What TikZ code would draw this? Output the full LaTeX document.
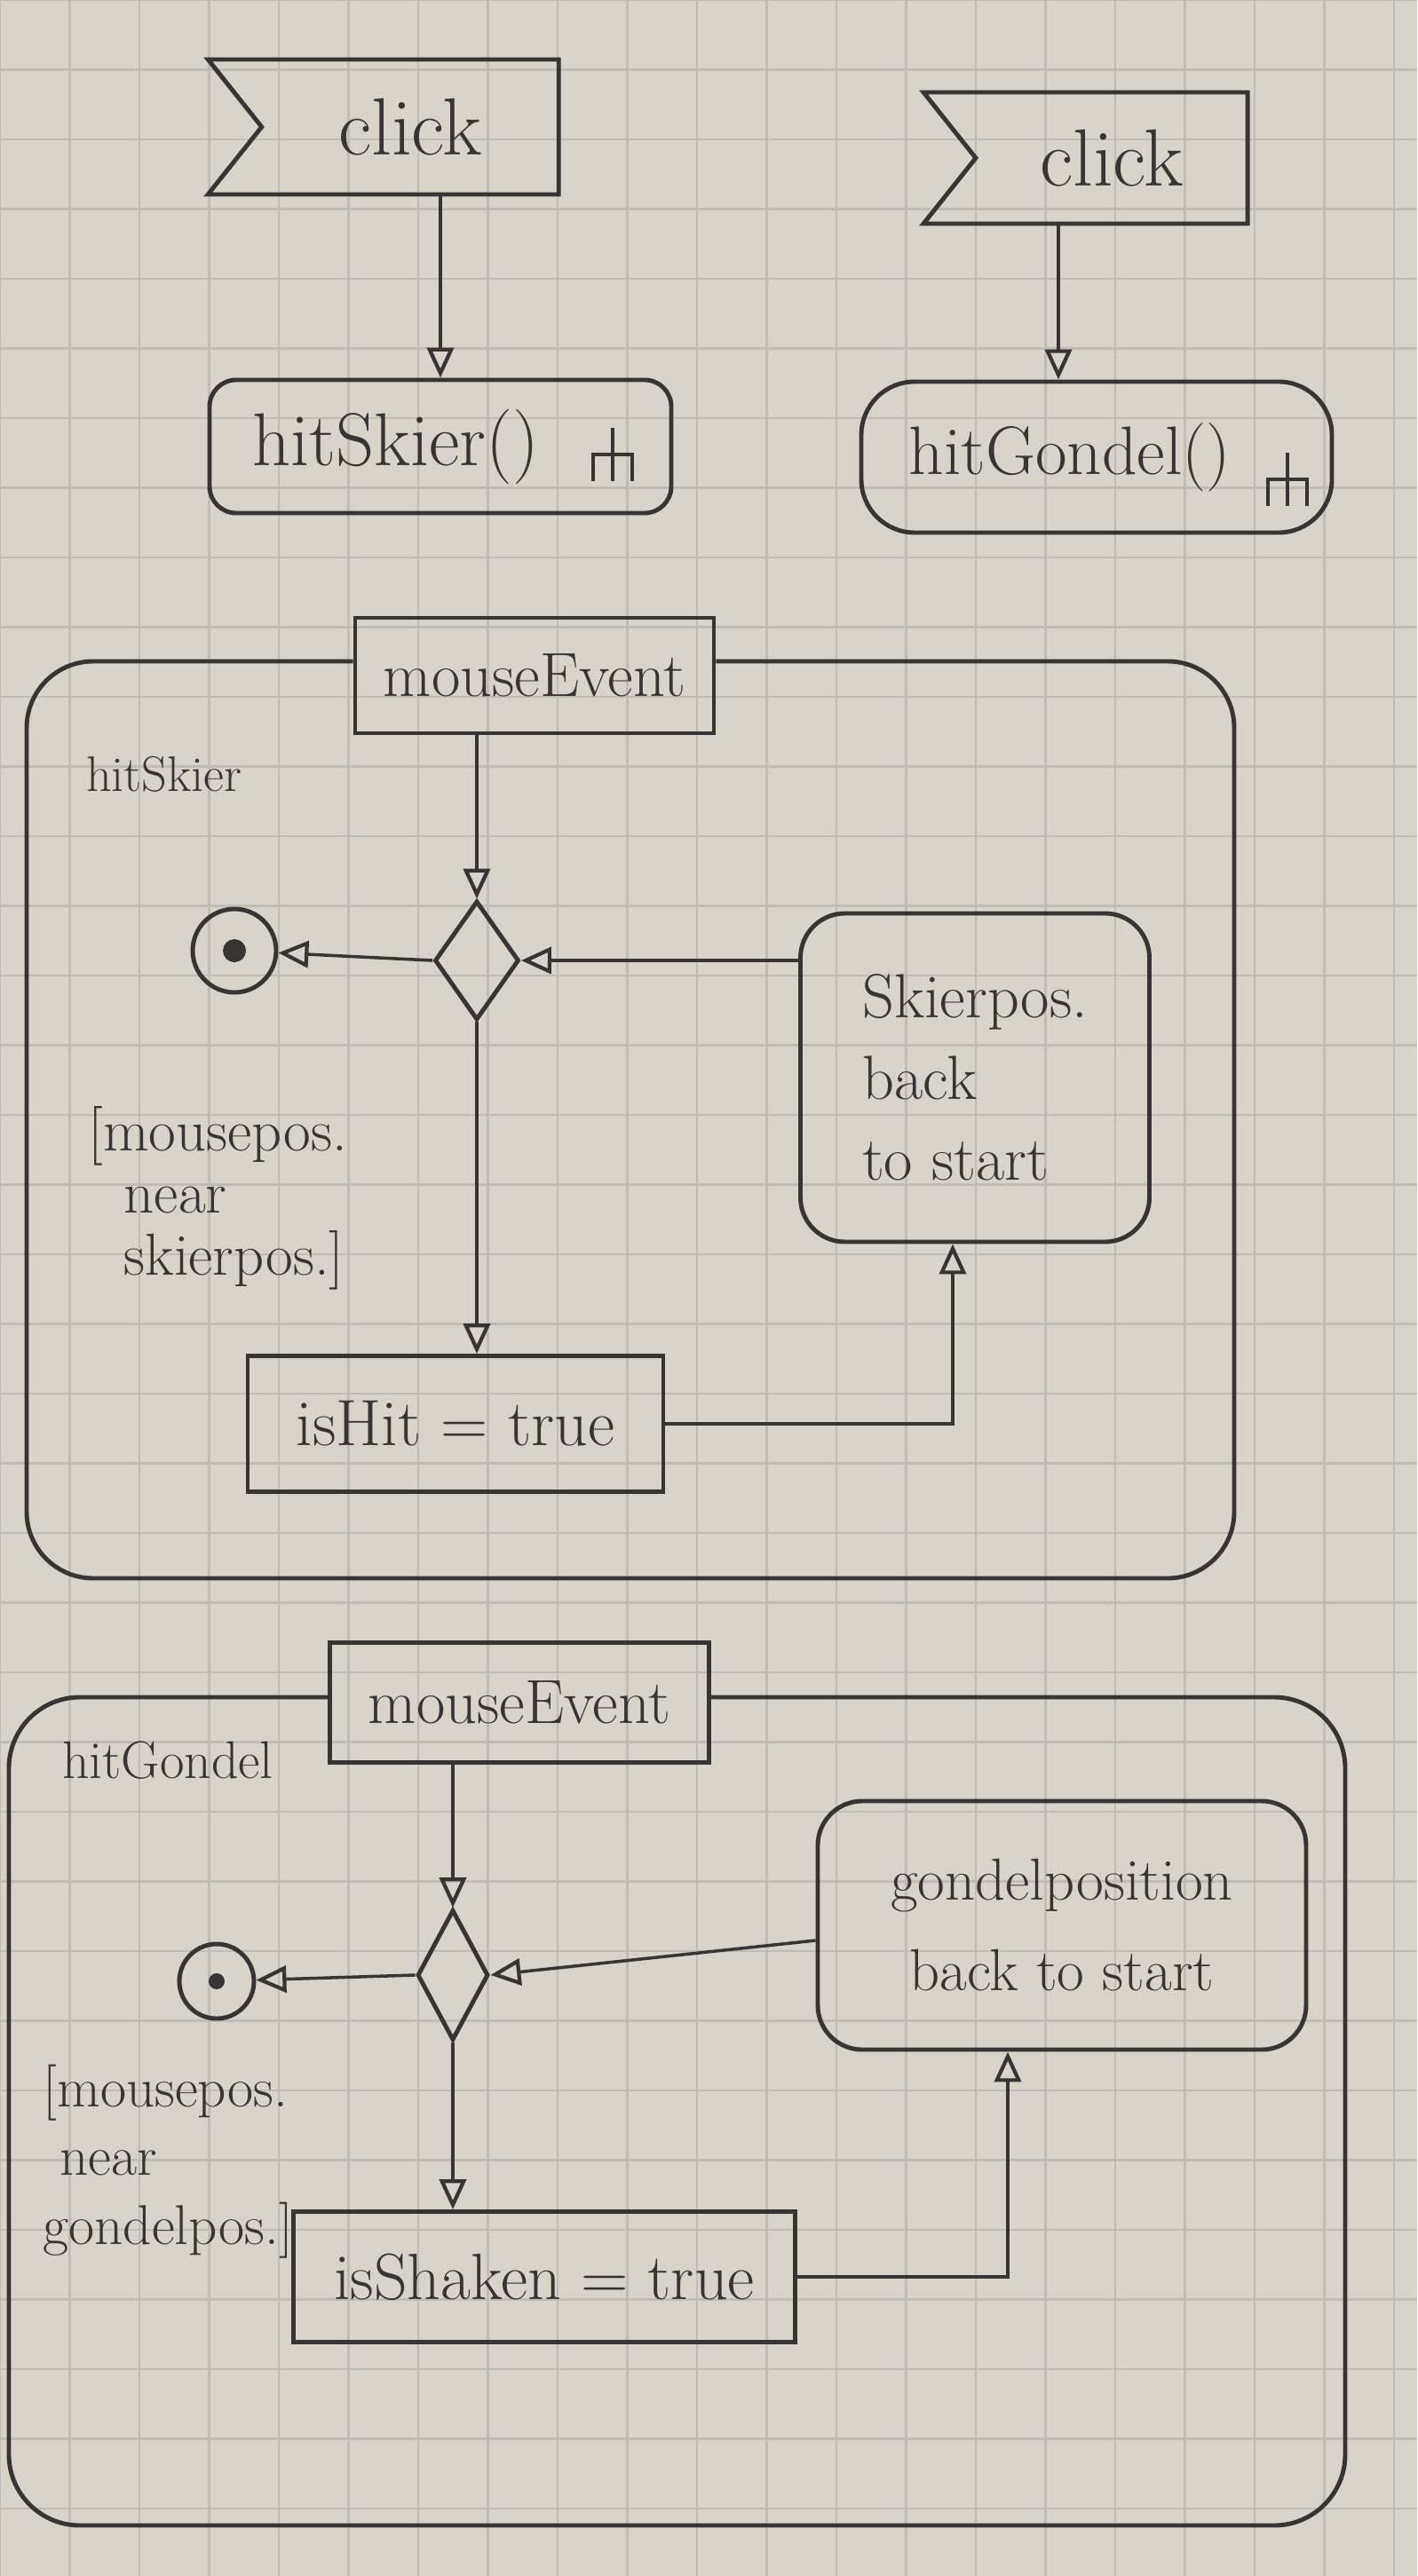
\documentclass[tikz,border=0pt]{standalone}
\usepackage{tikz}
\usetikzlibrary{arrows.meta,backgrounds,calc,positioning,shapes.geometric,shapes.symbols}
\definecolor{paper}{RGB}{217,212,203}
\definecolor{gridline}{RGB}{193,189,182}
\definecolor{pencil}{RGB}{55,53,51}
\newcommand{\fsz}[2]{\fontsize{#1}{#2}\selectfont}

\tikzset{
  rake/.pic={
    \draw[line width=1.2pt] (0,0.3) -- (0,-0.3);
    \draw[line width=1.2pt] (-0.22,-0.3) -- (-0.22,0) -- (0.22,0) -- (0.22,-0.3);
  }
}

\begin{document}
\begin{tikzpicture}[show background rectangle, show background grid, inner frame sep=0pt,
  background rectangle/.style={fill=paper},
  background grid/.style={draw=gridline, line width=0.6pt, step=0.785cm},
  color=pencil, line width=1.4pt,
  sigbox/.style={signal, signal to=nowhere, signal from=west, signal pointer angle=103, draw, inner sep=0pt, font=\fsz{26}{30}},
  callact/.style={draw, rectangle, inner sep=0pt, font=\fsz{22}{26}},
  pinbox/.style={draw, rectangle, inner sep=0pt, font=\fsz{20}{24}},
  actbox/.style={draw, rectangle, inner sep=0pt, font=\fsz{21}{25}},
  posbox/.style={draw, rectangle, rounded corners=0.5cm, inner sep=0pt},
  decide/.style={diamond, draw, inner sep=0pt},
  finalnode/.style={circle, draw, inner sep=0pt, minimum size=#1},
  guard/.style={align=left, anchor=west, inner sep=0pt},
  flow/.style={line width=1pt, -{Triangle[open, length=0.34cm, width=0.3cm, line width=1.2pt]}}
]
\useasboundingbox (0,0) rectangle (15.96,-29.02);

% the two calls
\node[sigbox, minimum width=3.95cm, minimum height=1.52cm] (click1) at (4.62,-1.43) {click};
\node[sigbox, minimum width=3.65cm, minimum height=1.48cm] (click2) at (12.52,-1.78) {click};
\node[callact, rounded corners=0.3cm, minimum width=5.2cm, minimum height=1.5cm, font=\fsz{24}{28}] (skieract) at (4.96,-5.03) {hitSkier()\kern1cm};
\node[callact, rounded corners=0.6cm, minimum width=5.3cm, minimum height=1.7cm] (gondelact) at (12.35,-5.15) {hitGondel()\kern0.6cm};
\pic at (6.9,-5.12) {rake};
\pic at (14.5,-5.4) {rake};
\draw[flow] (skieract.north |- click1.south) -- (skieract.north);
\draw[flow] ([xshift=-0.6cm]click2.south) -- ([xshift=-0.6cm]click2.south |- gondelact.north);

% hitSkier
\coordinate (f1top) at (0,-7.45);
\node[pinbox, minimum width=4.04cm, minimum height=1.3cm] (mouse1) at (6.02,-7.61) {mouseEvent};
\draw[rounded corners=0.75cm] (mouse1.west |- f1top) -- (0.30,-7.45) -- (0.30,-17.78) -- (13.9,-17.78) -- (13.9,-7.45) -- (mouse1.east |- f1top);
\node[anchor=west, font=\fsz{16}{20}] (skierlbl) at (0.83,-8.72) {hitSkier};
\node[decide, minimum width=0.95cm, minimum height=1.34cm] (dec1) at (5.37,-10.82) {};
\node[finalnode=0.94cm] (final1) at (2.64,-10.71) {};
\fill (final1) circle (0.13);
\node[posbox, minimum width=3.93cm, minimum height=3.7cm, align=left, font=\fsz{20}{26}] (skierpos) at (10.98,-12.14) {Skierpos.\\back\\to start};
\node[actbox, minimum width=4.68cm, minimum height=1.53cm] (hit) at (5.13,-16.04) {isHit = true};
\node[guard, font=\fsz{19}{20}] (guard1) at (0.97,-13.5) {[mousepos.\\\ \ near\\\ \ skierpos.]};
\draw[flow] (dec1.north |- mouse1.south) -- (dec1.north);
\draw[flow] (dec1.west) -- (final1);
\draw[flow] (skierpos.west |- dec1.east) -- (dec1.east);
\draw[flow] (dec1.south) -- (dec1.south |- hit.north);
\draw[flow] (hit.east) -| ([xshift=-0.25cm]skierpos.south);

% hitGondel
\coordinate (f2top) at (0,-19.12);
\node[pinbox, minimum width=4.27cm, minimum height=1.35cm] (mouse2) at (5.85,-19.18) {mouseEvent};
\draw[rounded corners=0.8cm] (mouse2.west |- f2top) -- (0.10,-19.12) -- (0.10,-28.45) -- (15.15,-28.45) -- (15.15,-19.12) -- (mouse2.east |- f2top);
\node[anchor=west, font=\fsz{17}{20}] (gondellbl) at (0.56,-19.83) {hitGondel};
\node[decide, minimum width=0.8cm, minimum height=1.47cm] (dec2) at (5.10,-22.25) {};
\node[finalnode=0.84cm] (final2) at (2.44,-22.32) {};
\fill (final2) circle (0.09);
\node[posbox, minimum width=5.5cm, minimum height=2.8cm, align=center, font=\fsz{19}{29}] (gondelpos) at (11.96,-21.69) {gondelposition\\back to start};
\node[actbox, minimum width=5.65cm, minimum height=1.47cm] (shaken) at (6.13,-25.65) {isShaken = true};
\node[guard, font=\fsz{18}{22}] (guard2) at (0.46,-24.35) {[mousepos.\\\ near\\gondelpos.]};
\draw[flow] (dec2.north |- mouse2.south) -- (dec2.north);
\draw[flow] (dec2.west) -- (final2);
\draw[flow] ([yshift=-0.17cm]gondelpos.west) -- (dec2.east);
\draw[flow] (dec2.south) -- (dec2.south |- shaken.north);
\draw[flow] (shaken.east) -| ([xshift=-0.61cm]gondelpos.south);
\end{tikzpicture}
\end{document}
